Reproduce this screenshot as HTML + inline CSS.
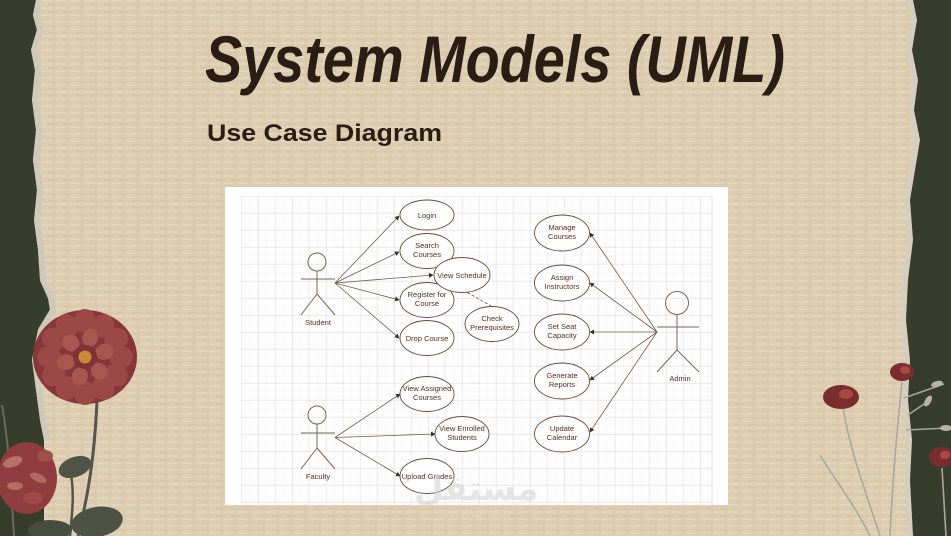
<!DOCTYPE html>
<html><head><meta charset="utf-8"><style>
html,body{margin:0;padding:0;width:951px;height:536px;overflow:hidden;background:#363d2b}
svg{display:block}
.t{font-family:"Liberation Sans",Arial,sans-serif;font-size:7.5px;fill:#5b2c1e;text-anchor:middle}
.a{font-family:"Liberation Sans",Arial,sans-serif;font-size:7.5px;fill:#5b2c1e;text-anchor:middle}
.e{fill:#fff;stroke:#6b4a3c;stroke-width:0.9}
.l{stroke:#6e5a4e;stroke-width:0.8;fill:none}
.s{stroke:#7a6458;stroke-width:1;fill:none}
</style></head><body>
<svg width="951" height="536" viewBox="0 0 951 536" xmlns="http://www.w3.org/2000/svg">
<defs>
<pattern id="paper" width="14" height="7" patternUnits="userSpaceOnUse">
<rect width="14" height="7" fill="#ddcdb0"/>
<rect x="0" y="0" width="10" height="2" fill="#e3d5bc"/>
<rect x="6" y="4" width="8" height="1.5" fill="#d6c5a7"/>
</pattern>
<pattern id="gridMinor" x="241" y="196" width="8.5" height="8.5" patternUnits="userSpaceOnUse">
<path d="M8.5 0V8.5M0 8.5H8.5" stroke="#f0f0f0" stroke-width="0.8" fill="none"/>
</pattern>
<pattern id="gridMajor" x="241" y="196" width="17" height="17" patternUnits="userSpaceOnUse">
<path d="M0 0V17M0 0H17" stroke="#dedede" stroke-width="0.9" fill="none"/>
</pattern>
<marker id="ar" markerWidth="5" markerHeight="5" refX="4" refY="2.5" orient="auto" markerUnits="userSpaceOnUse">
<path d="M0 0L4.5 2.5L0 5Z" fill="#3e2f27"/>
</marker>
</defs>

<!-- paper -->
<rect x="0" y="0" width="951" height="536" fill="url(#paper)"/>

<!-- left green edge -->
<polygon fill="#363d2b" points="0,0 36,0 33,15 37,30 31,50 35,70 32,100 36,130 33,160 37,190 34,220 38,250 40,280 48,298 50,310 38,330 32,360 36,390 40,420 44,440 44,536 0,536"/>
<polyline fill="none" stroke="#cdc8bd" stroke-width="6" opacity="0.85" points="39,0 36,15 40,30 34,50 38,70 35,100 39,130 36,160 40,190 37,220 41,250 43,280 51,298 53,310 41,330 35,360 39,390 43,420 47,440"/>
<!-- right green edge -->
<polygon fill="#363d2b" points="913,0 917,20 912,50 918,80 914,110 920,140 915,170 910,200 913,240 908,280 906,320 910,360 908,400 912,440 910,480 913,536 951,536 951,0"/>
<polyline fill="none" stroke="#d3cec3" stroke-width="5" opacity="0.85" points="910,0 914,20 909,50 915,80 911,110 917,140 912,170 907,200 910,240 905,280 903,320 907,360 905,400 909,440 907,480 910,536"/>

<!-- title -->
<text x="205" y="82" textLength="580" lengthAdjust="spacingAndGlyphs" font-family="Liberation Sans, Arial, sans-serif" font-weight="bold" font-style="italic" font-size="66" fill="#2a1d14">System Models (UML)</text>
<text x="207" y="141" textLength="235" lengthAdjust="spacingAndGlyphs" font-family="Liberation Sans, Arial, sans-serif" font-weight="bold" font-size="24" fill="#2a1d14">Use Case Diagram</text>

<!-- diagram panel -->
<rect x="225" y="187" width="503" height="318" fill="#ffffff"/>
<rect x="241" y="196" width="471" height="309" fill="url(#gridMinor)"/>
<rect x="241" y="196" width="471" height="309" fill="url(#gridMajor)"/>
<line x1="712" y1="196" x2="712" y2="505" stroke="#dedede" stroke-width="0.9"/>

<!-- Student actor -->
<circle cx="317" cy="262" r="9" class="s"/>
<line x1="317" y1="271" x2="317" y2="294" class="s"/>
<line x1="301" y1="279" x2="335" y2="279" class="s"/>
<line x1="317" y1="294" x2="301" y2="315" class="s"/>
<line x1="317" y1="294" x2="335" y2="315" class="s"/>
<text x="318" y="325" class="a">Student</text>

<!-- student connectors -->
<line x1="335" y1="283" x2="399" y2="216" class="l" marker-end="url(#ar)"/>
<line x1="335" y1="283" x2="399" y2="252" class="l" marker-end="url(#ar)"/>
<line x1="335" y1="283" x2="433" y2="275" class="l" marker-end="url(#ar)"/>
<line x1="335" y1="283" x2="399" y2="300" class="l" marker-end="url(#ar)"/>
<line x1="335" y1="283" x2="399" y2="338" class="l" marker-end="url(#ar)"/>
<line x1="463" y1="290" x2="491" y2="306" stroke="#5a4a40" stroke-width="0.8" stroke-dasharray="3,2"/>

<!-- student use cases -->
<ellipse cx="427" cy="215" rx="27" ry="15" class="e"/>
<text x="427" y="218" class="t">Login</text>
<ellipse cx="427" cy="251" rx="27" ry="17.5" class="e"/>
<text x="427" y="248" class="t">Search</text><text x="427" y="257" class="t">Courses</text>
<ellipse cx="427" cy="300" rx="27" ry="17.5" class="e"/>
<text x="427" y="297" class="t">Register for</text><text x="427" y="306" class="t">Course</text>
<ellipse cx="462" cy="275" rx="28" ry="17.5" class="e"/>
<text x="462" y="278" class="t">View Schedule</text>
<ellipse cx="427" cy="338" rx="27" ry="17.5" class="e"/>
<text x="427" y="341" class="t">Drop Course</text>
<ellipse cx="492" cy="324" rx="27" ry="17.5" class="e"/>
<text x="492" y="321" class="t">Check</text><text x="492" y="330" class="t">Prerequisites</text>

<!-- Faculty actor -->
<circle cx="317" cy="415" r="9" class="s"/>
<line x1="317" y1="424" x2="317" y2="448" class="s"/>
<line x1="301" y1="433" x2="335" y2="433" class="s"/>
<line x1="317" y1="448" x2="301" y2="469" class="s"/>
<line x1="317" y1="448" x2="335" y2="469" class="s"/>
<text x="318" y="479" class="a">Faculty</text>

<line x1="335" y1="437.5" x2="400" y2="394" class="l" marker-end="url(#ar)"/>
<line x1="335" y1="437.5" x2="435" y2="434" class="l" marker-end="url(#ar)"/>
<line x1="335" y1="437.5" x2="400" y2="476" class="l" marker-end="url(#ar)"/>

<ellipse cx="427" cy="394" rx="27" ry="17.5" class="e"/>
<text x="427" y="391" class="t">View Assigned</text><text x="427" y="400" class="t">Courses</text>
<ellipse cx="462" cy="434" rx="27" ry="17.5" class="e"/>
<text x="462" y="431" class="t">View Enrolled</text><text x="462" y="440" class="t">Students</text>
<ellipse cx="427" cy="476" rx="27" ry="17.5" class="e"/>
<text x="427" y="479" class="t">Upload Grades</text>

<!-- Admin actor -->
<circle cx="677" cy="303" r="11.5" class="s"/>
<line x1="677" y1="314.5" x2="677" y2="350" class="s"/>
<line x1="657" y1="327" x2="699" y2="327" class="s"/>
<line x1="677" y1="350" x2="657" y2="372" class="s"/>
<line x1="677" y1="350" x2="699" y2="372" class="s"/>
<text x="680" y="381" class="a">Admin</text>

<line x1="657" y1="332" x2="590" y2="233" class="l" marker-end="url(#ar)"/>
<line x1="657" y1="332" x2="590" y2="283" class="l" marker-end="url(#ar)"/>
<line x1="657" y1="332" x2="590" y2="332" class="l" marker-end="url(#ar)"/>
<line x1="657" y1="332" x2="590" y2="380" class="l" marker-end="url(#ar)"/>
<line x1="657" y1="332" x2="590" y2="432" class="l" marker-end="url(#ar)"/>

<ellipse cx="562" cy="233" rx="27.5" ry="18" class="e"/>
<text x="562" y="230" class="t">Manage</text><text x="562" y="239" class="t">Courses</text>
<ellipse cx="562" cy="283" rx="27.5" ry="18" class="e"/>
<text x="562" y="280" class="t">Assign</text><text x="562" y="289" class="t">Instructors</text>
<ellipse cx="562" cy="332" rx="27.5" ry="18" class="e"/>
<text x="562" y="329" class="t">Set Seat</text><text x="562" y="338" class="t">Capacity</text>
<ellipse cx="562" cy="381" rx="27.5" ry="18" class="e"/>
<text x="562" y="378" class="t">Generate</text><text x="562" y="387" class="t">Reports</text>
<ellipse cx="562" cy="434" rx="27.5" ry="18" class="e"/>
<text x="562" y="431" class="t">Update</text><text x="562" y="440" class="t">Calendar</text>

<!-- watermark -->
<text x="476" y="500" text-anchor="middle" font-family="DejaVu Sans, sans-serif" font-weight="bold" font-size="34" fill="#d2d2d2" opacity="0.55">مستقل</text>
<text x="476" y="517" text-anchor="middle" font-family="Liberation Sans, sans-serif" font-size="12" fill="#e8dcc8" opacity="0.5">mostaql.com</text>

<!-- left flowers -->
<path d="M97,402 C95,440 92,480 78,536" stroke="#55554b" stroke-width="3" fill="none"/>
<path d="M70,470 C75,490 72,515 70,536" stroke="#55554b" stroke-width="2.5" fill="none"/>
<path d="M2,405 C8,440 10,470 14,536" stroke="#6a6a60" stroke-width="2" fill="none"/>
<ellipse cx="75" cy="467" rx="17" ry="10" fill="#4f5446" transform="rotate(-20 75 467)"/>
<ellipse cx="97" cy="522" rx="26" ry="15" fill="#4d5245" transform="rotate(-10 97 522)"/>
<ellipse cx="50" cy="530" rx="22" ry="10" fill="#474c40"/>
<g transform="translate(27,478)">
<ellipse rx="30" ry="36" fill="#8f3d3e"/>
<ellipse cx="-8" cy="-20" rx="10" ry="5" fill="#b9706a" transform="rotate(-20)"/>
<ellipse cx="10" cy="-5" rx="9" ry="4" fill="#b06760" transform="rotate(25)"/>
<ellipse cx="-12" cy="8" rx="8" ry="4" fill="#b56c64"/>
<ellipse cx="6" cy="20" rx="10" ry="6" fill="#9e4a47"/>
<ellipse cx="18" cy="-22" rx="8" ry="6" fill="#a0504c"/>
</g>
<g transform="translate(85,357)">
<ellipse rx="52" ry="47" fill="#873739"/>
<g fill="#9c4846">
<ellipse cx="0" cy="-36" rx="11" ry="12"/>
<ellipse cx="0" cy="-36" rx="11" ry="12" transform="rotate(30)"/>
<ellipse cx="0" cy="-36" rx="11" ry="12" transform="rotate(60)"/>
<ellipse cx="0" cy="-36" rx="11" ry="12" transform="rotate(90)"/>
<ellipse cx="0" cy="-36" rx="11" ry="12" transform="rotate(120)"/>
<ellipse cx="0" cy="-36" rx="11" ry="12" transform="rotate(150)"/>
<ellipse cx="0" cy="-36" rx="11" ry="12" transform="rotate(180)"/>
<ellipse cx="0" cy="-36" rx="11" ry="12" transform="rotate(210)"/>
<ellipse cx="0" cy="-36" rx="11" ry="12" transform="rotate(240)"/>
<ellipse cx="0" cy="-36" rx="11" ry="12" transform="rotate(270)"/>
<ellipse cx="0" cy="-36" rx="11" ry="12" transform="rotate(300)"/>
<ellipse cx="0" cy="-36" rx="11" ry="12" transform="rotate(330)"/>
</g>
<g fill="#a8564f">
<ellipse cx="0" cy="-20" rx="8" ry="9" transform="rotate(15)"/>
<ellipse cx="0" cy="-20" rx="8" ry="9" transform="rotate(75)"/>
<ellipse cx="0" cy="-20" rx="8" ry="9" transform="rotate(135)"/>
<ellipse cx="0" cy="-20" rx="8" ry="9" transform="rotate(195)"/>
<ellipse cx="0" cy="-20" rx="8" ry="9" transform="rotate(255)"/>
<ellipse cx="0" cy="-20" rx="8" ry="9" transform="rotate(315)"/>
</g>
<circle r="12" fill="#7e3436"/>
<circle r="6.5" fill="#c98b35"/>
</g>

<!-- right flowers -->
<g stroke="#a9a8a0" stroke-width="1.6" fill="none">
<path d="M843,408 C850,450 865,490 880,536"/>
<path d="M820,455 C835,480 855,505 870,536"/>
<path d="M902,382 C898,420 893,470 890,536"/>
<path d="M904,398 L944,384"/>
<path d="M906,430 L948,428"/>
<path d="M908,415 L927,402"/>
<path d="M942,468 L946,536"/>
</g>
<ellipse cx="937" cy="384" rx="6" ry="3" fill="#b9b3a6" transform="rotate(-15 937 384)"/>
<ellipse cx="928" cy="401" rx="3" ry="6" fill="#b9b3a6" transform="rotate(30 928 401)"/>
<ellipse cx="946" cy="428" rx="6" ry="3" fill="#b9b3a6"/>
<g fill="#7a2d2f">
<ellipse cx="841" cy="397" rx="18" ry="12"/>
<ellipse cx="902" cy="372" rx="12" ry="9"/>
<ellipse cx="942" cy="457" rx="13" ry="10"/>
</g>
<g fill="#a84a42">
<ellipse cx="846" cy="394" rx="7" ry="5"/>
<ellipse cx="905" cy="370" rx="5" ry="4"/>
<ellipse cx="945" cy="455" rx="5" ry="4"/>
</g>
</svg>
</body></html>
